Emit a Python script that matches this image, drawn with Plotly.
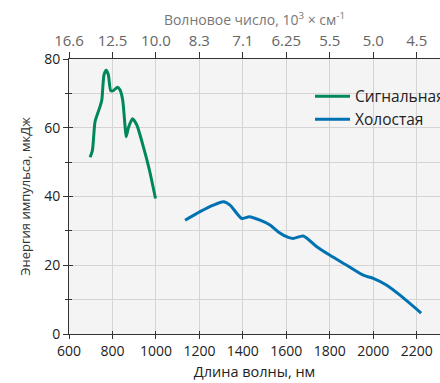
import plotly.graph_objects as go

# ---- data ----
signal_nm = [697, 708, 720, 743, 751, 761, 771, 781, 792, 804, 823, 835, 847, 858, 863, 873, 892, 912, 942, 970, 998]
signal_mj = [51.4, 53.5, 61.8, 66.2, 68.1, 75.4, 76.7, 75.4, 70.8, 70.8, 71.8, 71.0, 68.1, 60.4, 57.4, 59.9, 62.6, 60.8, 54.5, 47.7, 39.4]

idler_nm = [1134, 1203, 1264, 1310, 1341, 1372, 1395, 1430, 1479, 1525, 1563, 1609, 1632, 1678, 1740, 1801, 1878, 1954, 2000, 2062, 2123, 2220]
idler_mj = [33.1, 35.6, 37.5, 38.5, 37.5, 35.1, 33.6, 34.1, 33.1, 31.7, 29.7, 28.1, 27.8, 28.5, 25.4, 22.9, 20.0, 17.1, 16.2, 14.2, 11.3, 6.1]

bottom_ticks = [600, 800, 1000, 1200, 1400, 1600, 1800, 2000, 2200]
top_tick_labels = ["16.6", "12.5", "10.0", "8.3", "7.1", "6.25", "5.5", "5.0", "4.5"]
y_ticks = [0, 20, 40, 60, 80]

GREEN = "#00875a"
BLUE = "#0072b2"
FONT = "Open Sans"
XR = [600, 2307]
YR = [0, 80]

fig = go.Figure()
fig.add_trace(go.Scatter(x=signal_nm, y=signal_mj, mode="lines", name="Сигнальная",
                         line=dict(color=GREEN, width=3, shape="spline", smoothing=0.6)))
fig.add_trace(go.Scatter(x=idler_nm, y=idler_mj, mode="lines", name="Холостая",
                         line=dict(color=BLUE, width=3, shape="spline", smoothing=0.6)))
# dummy trace for the top axis
fig.add_trace(go.Scatter(x=[bottom_ticks[0]], y=[0], xaxis="x2", yaxis="y", mode="markers",
                         marker=dict(opacity=0), showlegend=False, hoverinfo="skip"))
# dummy trace for inside-tick overlay axes
fig.add_trace(go.Scatter(x=[bottom_ticks[0]], y=[0], xaxis="x3", yaxis="y3", mode="markers",
                         marker=dict(opacity=0), showlegend=False, hoverinfo="skip"))

axis_line = "#333333"
grid = "#d4d4d4"

fig.update_layout(
    width=440, height=383,
    margin=dict(l=69, r=0, t=59, b=49, autoexpand=False),
    paper_bgcolor="white",
    plot_bgcolor="#f4f4f4",
    font=dict(family=FONT, size=14, color="#222222"),
    showlegend=True,
    legend=dict(x=0.6496, y=0.925, xanchor="left", yanchor="top",
                bgcolor="rgba(0,0,0,0)", font=dict(size=15.5, color="#222222"),
                tracegroupgap=0, itemwidth=35),
    xaxis=dict(range=XR, tickvals=bottom_ticks, showgrid=True, gridcolor=grid, gridwidth=1,
               showline=True, linecolor=axis_line, linewidth=1,
               ticks="outside", ticklen=4, tickcolor=axis_line,
               tickfont=dict(size=14, color="#222222"),
               title=dict(text="Длина волны, нм", font=dict(size=14.5, color="#222222"), standoff=8),
               zeroline=False),
    xaxis2=dict(range=XR, overlaying="x", side="top", tickvals=bottom_ticks, ticktext=top_tick_labels,
                showgrid=False, showline=True, linecolor=axis_line, linewidth=1,
                ticks="outside", ticklen=6, tickcolor=axis_line,
                tickfont=dict(size=15, color="#666666"),
                title=dict(text="Волновое число, 10<sup>3</sup> × см<sup>-1</sup>",
                           font=dict(size=14, color="#777777"), standoff=1),
                zeroline=False),
    xaxis3=dict(range=XR, overlaying="x", side="bottom", tickvals=bottom_ticks, showticklabels=False,
                showgrid=False, showline=False, ticks="inside", ticklen=3, tickcolor=axis_line,
                zeroline=False),
    yaxis=dict(range=YR, tickvals=y_ticks, showgrid=True, gridcolor=grid, gridwidth=1,
               minor=dict(dtick=10, showgrid=True, gridcolor=grid, ticks="outside", ticklen=3,
                          tickcolor=axis_line),
               showline=True, linecolor=axis_line, linewidth=1,
               ticks="outside", ticklen=5, tickcolor=axis_line,
               tickfont=dict(size=14, color="#222222"),
               title=dict(text="Энергия импульса, мкДж", font=dict(size=13, color="#333333"), standoff=10),
               zeroline=False),
    yaxis3=dict(range=YR, overlaying="y", side="left", tickvals=y_ticks, showticklabels=False,
                showgrid=False, showline=False, ticks="inside", ticklen=4, tickcolor=axis_line,
                minor=dict(dtick=10, ticks="inside", ticklen=3, tickcolor=axis_line),
                zeroline=False),
)

fig.write_html("out.html")
